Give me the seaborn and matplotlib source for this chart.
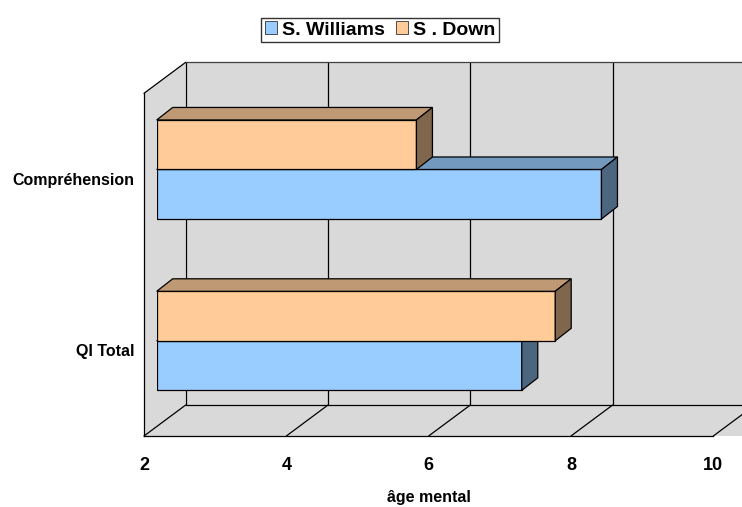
import matplotlib
matplotlib.use('Agg')
import matplotlib.pyplot as plt
import seaborn as sns
import pandas as pd
from matplotlib.patches import Polygon, Patch

# Data
categories = ['Compréhension', 'QI Total']
series = ['S. Williams', 'S . Down']
williams = [8.25, 7.13]
down = [5.65, 7.6]
x_ticks = [2, 4, 6, 8, 10]
x_label = 'âge mental'

sns.set_style("white")
plt.rcParams['font.family'] = ['Liberation Sans', 'DejaVu Sans']
plt.rcParams['text.color'] = 'black'
plt.rcParams['axes.labelcolor'] = 'black'
plt.rcParams['xtick.color'] = 'black'
plt.rcParams['ytick.color'] = 'black'

colors = {'S. Williams': '#99CCFF', 'S . Down': '#FFCC99'}
tops = {'S. Williams': '#7399BF', 'S . Down': '#BF9973'}
sides = {'S. Williams': '#4D6680', 'S . Down': '#80664D'}
WALL = '#D9D9D9'

df = pd.DataFrame({
    'category': categories * 2,
    'series': [series[0]] * 2 + [series[1]] * 2,
    'value': williams + down,
})

W, H = 742, 507
fig = plt.figure(figsize=(W / 100, H / 100), dpi=100)

# front plane of the 3D box (pixels)
left, right, top, bottom = 144, 713.3, 93.3, 436
xmin, xmax = x_ticks[0], x_ticks[-1]
px_x = (right - left) / (xmax - xmin)
px_y = (bottom - top) / len(categories)
DX, DY = 41.7 / px_x, 31 / px_y          # full depth of the box
bdx, bdy = 16 / px_x, 12.5 / px_y        # depth of one bar
off_x, off_y = 12.7, 9.5                 # bar plane offset

ax = fig.add_axes([left / W, (H - bottom) / H, (right - left) / W, (bottom - top) / H])
ax.set_xlim(xmin, xmax)
ax.set_ylim(len(categories) - 0.5, -0.5)
ax.set_facecolor('none')

y0, y1 = -0.5, len(categories) - 0.5
kw = dict(clip_on=False, zorder=0)
# walls and floor
ax.add_patch(Polygon([(xmin + DX, y0 - DY), (xmax + 2, y0 - DY), (xmax + 2, y1 - DY), (xmin + DX, y1 - DY)],
                     fc=WALL, ec='none', **kw))
ax.add_patch(Polygon([(xmin, y0), (xmin + DX, y0 - DY), (xmin + DX, y1 - DY), (xmin, y1)],
                     fc=WALL, ec='none', **kw))
ax.add_patch(Polygon([(xmin, y1), (xmax + 2, y1), (xmax + 2, y1 - DY), (xmin + DX, y1 - DY)],
                     fc=WALL, ec='none', **kw))
lkw = dict(color='black', lw=0.9, clip_on=False, zorder=1)
for t in x_ticks:
    ax.plot([t + DX, t + DX], [y0 - DY, y1 - DY], **lkw)
    ax.plot([t, t + DX], [y1, y1 - DY], **lkw)
ax.plot([xmin, xmin + DX], [y0, y0 - DY], **lkw)
ax.plot([xmin + DX, xmax + 2], [y1 - DY, y1 - DY], **lkw)
ax.plot([xmin + DX, xmax + 2], [y0 - DY, y0 - DY], color='#404040', lw=0.9, clip_on=False, zorder=1)

for s in ['top', 'right']:
    ax.spines[s].set_visible(False)
for s in ['left', 'bottom']:
    ax.spines[s].set_color('black')
    ax.spines[s].set_linewidth(0.9)

ax.set_xticks(x_ticks)
ax.set_xticklabels([str(t) for t in x_ticks], fontsize=13, fontweight='bold')
ax.tick_params(axis='x', direction='out', length=5.8, width=0.9, color='black', pad=9)
ax.set_yticks(range(len(categories)))
ax.set_yticklabels(categories, fontsize=11.5, fontweight='bold')
ax.set_yticks([y0 + i for i in range(len(categories) + 1)], minor=True)
ax.tick_params(axis='y', which='major', length=0, pad=7)
ax.tick_params(axis='y', which='minor', direction='out', length=5, width=0.9, color='black')
ax.set_xlabel(x_label, fontsize=11.5, fontweight='bold', labelpad=12)

# bar plane
axb = fig.add_axes([(left + off_x) / W, (H - bottom + off_y) / H, (right - left) / W, (bottom - top) / H])
hue_order = ['S . Down', 'S. Williams']
sns.barplot(data=df, x='value', y='category', hue='series', hue_order=hue_order,
            palette=colors, saturation=1, width=0.578, orient='h', ax=axb,
            edgecolor='black', linewidth=0.9, legend=False)
axb.set_xlim(xmin, xmax)
axb.set_ylim(len(categories) - 0.5, -0.5)
axb.axis('off')

for cont, name in zip(axb.containers, hue_order):
    z = 3 if name == 'S . Down' else 2
    for p in cont:
        x1 = p.get_width()
        p.set_x(xmin)
        p.set_width(x1 - xmin)
        p.set_zorder(z)
        yt = p.get_y()
        yb = yt + p.get_height()
        axb.add_patch(Polygon([(xmin, yt), (x1, yt), (x1 + bdx, yt - bdy), (xmin + bdx, yt - bdy)],
                              fc=tops[name], ec='black', lw=0.9, zorder=z, clip_on=False))
        axb.add_patch(Polygon([(x1, yt), (x1, yb), (x1 + bdx, yb - bdy), (x1 + bdx, yt - bdy)],
                              fc=sides[name], ec='black', lw=0.9, zorder=z, clip_on=False))

handles = [Patch(fc=colors[s], ec='#333333', lw=0.6, label=s) for s in series]
leg = fig.legend(handles=handles, loc='center', bbox_to_anchor=(380 / W, 1 - 30 / H), ncol=2,
                 frameon=True, fancybox=False, edgecolor='black',
                 prop={'weight': 'bold', 'size': 14}, handlelength=0.6, handleheight=0.6,
                 handletextpad=0.25, columnspacing=0.6, borderpad=0.2, borderaxespad=0)
leg.get_frame().set_linewidth(1.0)

fig.savefig('out.png', dpi=100)
